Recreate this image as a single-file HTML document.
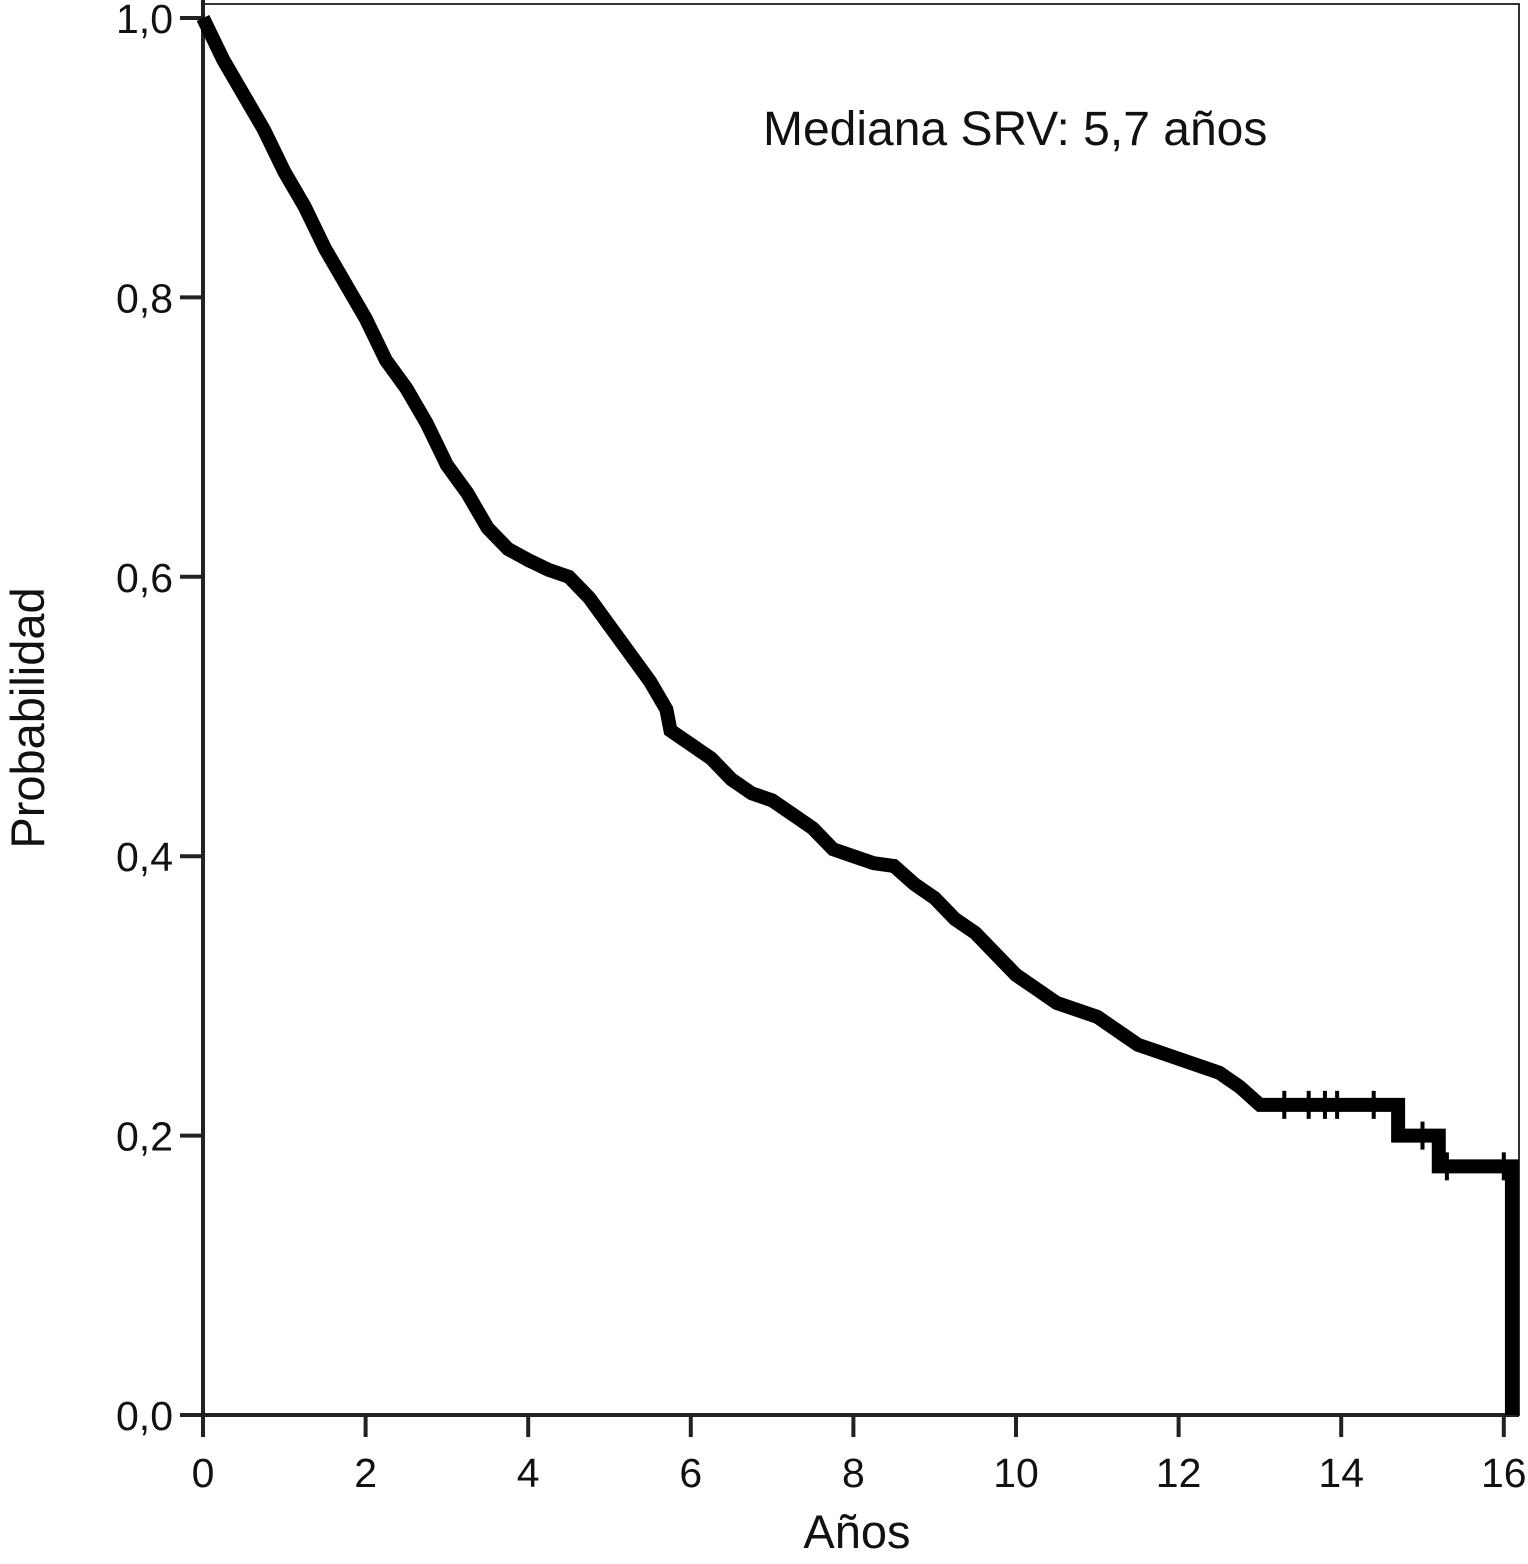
<!DOCTYPE html>
<html><head><meta charset="utf-8"><style>
body{margin:0;background:#fff;}
svg text{font-family:"Liberation Sans",Arial,sans-serif;fill:#111;}
</style></head><body>
<svg id="chart" width="1528" height="1559" viewBox="0 0 1528 1559" xmlns="http://www.w3.org/2000/svg">
<rect x="204" y="4" width="1315" height="1411" fill="none" stroke="#333" stroke-width="2"/>
<g id="axes"></g>
<g id="series"></g>
<text x="763" y="145" font-size="48">Mediana SRV: 5,7 años</text>
<text x="857" y="1548" font-size="47" text-anchor="middle">Años</text>
<text transform="translate(44,718) rotate(-90)" font-size="47" text-anchor="middle">Probabilidad</text>
</svg>
<script>
const xTicks=[0,2,4,6,8,10,12,14,16];
const yTicks=[0,0.2,0.4,0.6,0.8,1.0];
const yLabels=["0,0","0,2","0,4","0,6","0,8","1,0"];
const times=[0,0.25,0.5,0.75,1,1.25,1.5,1.75,2,2.25,2.5,2.75,3,3.25,3.5,3.75,4,4.25,4.5,4.75,5,5.25,5.5,5.7,5.75,6,6.25,6.5,6.75,7,7.25,7.5,7.75,8,8.25,8.5,8.75,9,9.25,9.5,9.75,10,10.25,10.5,10.75,11,11.25,11.5,11.75,12,12.25,12.5,12.75,13,14.7,15.2,16.1];
const surv=[1.0,0.97,0.945,0.92,0.89,0.865,0.835,0.81,0.785,0.755,0.735,0.71,0.68,0.66,0.635,0.62,0.612,0.605,0.6,0.585,0.565,0.545,0.525,0.505,0.49,0.48,0.47,0.455,0.445,0.44,0.43,0.42,0.405,0.4,0.395,0.393,0.38,0.37,0.355,0.345,0.33,0.315,0.305,0.295,0.29,0.285,0.275,0.265,0.26,0.255,0.25,0.245,0.235,0.222,0.2,0.178,0];
const censorTimes=[13.3,13.6,13.8,13.95,14.4,15.0,15.3,16.0];
const denseUntil=13;
const X=t=>203+t*81.3;
const Y=p=>1415-p*1397;
const NS="http://www.w3.org/2000/svg";
const axes=document.getElementById('axes');
function mk(tag,attrs,parent){const e=document.createElementNS(NS,tag);for(const k in attrs)e.setAttribute(k,attrs[k]);parent.appendChild(e);return e;}
mk('line',{x1:203,y1:0,x2:203,y2:1425,stroke:'#222','stroke-width':4},axes);
mk('line',{x1:180,y1:1415,x2:1519,y2:1415,stroke:'#222','stroke-width':4},axes);
xTicks.forEach(t=>{
  const l=mk('line',{x1:X(t),y1:1415,x2:X(t),y2:1437,stroke:'#222','stroke-width':4},axes);
  
  
  const tx=mk('text',{x:X(t),y:1487,'font-size':41,'text-anchor':'middle'},axes);tx.textContent=t;
  
  
});
yTicks.forEach((v,i)=>{
  const l=mk('line',{x1:180,y1:Y(v),x2:203,y2:Y(v),stroke:'#222','stroke-width':4},axes);
  
  
  const tx=mk('text',{x:173,y:Y(v)+15,'font-size':41,'text-anchor':'end'},axes);tx.textContent=yLabels[i];
  
  
});
const ser=document.getElementById('series');
let d='M'+X(times[0])+','+Y(surv[0]);
for(let i=1;i<times.length;i++){
  if(times[i]<=denseUntil){d+=' L'+X(times[i])+','+Y(surv[i]);}
  else{d+=' H'+X(times[i])+' V'+Y(surv[i]);}
}
const p=mk('path',{d:d,fill:'none',stroke:'#000','stroke-width':14,'stroke-linejoin':'miter'},ser);


function survAt(t){let v=surv[0];for(let i=0;i<times.length;i++){if(times[i]<=t)v=surv[i];}return v;}
censorTimes.forEach(t=>{
  const c=mk('line',{x1:X(t),y1:Y(survAt(t))-14,x2:X(t),y2:Y(survAt(t))+14,stroke:'#000','stroke-width':4},ser);
  
  
});
</script>
</body></html>
